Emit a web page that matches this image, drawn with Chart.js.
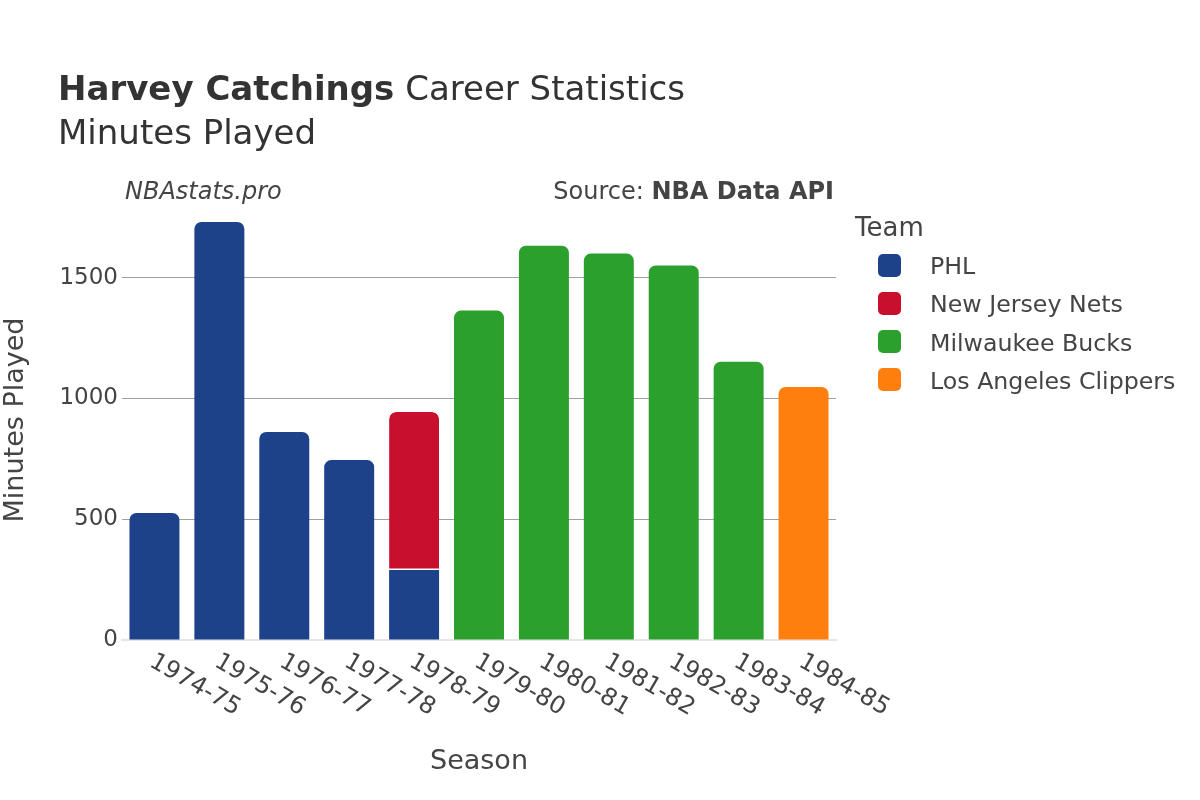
<!DOCTYPE html>
<html><head><meta charset="utf-8">
<script src="https://cdn.jsdelivr.net/npm/chart.js@4.4.1/dist/chart.umd.min.js"></script>
<style>
html,body{margin:0;padding:0;background:#fff;}
#wrap{position:relative;width:1200px;height:800px;overflow:hidden;font-family:'DejaVu Sans';}
canvas{position:absolute;left:0;top:0;}
.t{position:absolute;white-space:nowrap;line-height:1;color:#444;}
.sw{position:absolute;width:23px;height:23px;border-radius:5px;}
</style></head><body>
<div id="wrap">
<canvas id="c" width="1200" height="800"></canvas>
<div class="t" style="left:58px;top:70.5px;font-size:34px;color:#333"><b>Harvey Catchings</b> Career Statistics</div>
<div class="t" style="left:58px;top:114.5px;font-size:34px;color:#333">Minutes Played</div>
<div class="t" style="left:125px;top:178.7px;font-size:24px;font-style:italic">NBAstats.pro</div>
<div class="t" style="right:366px;top:178.7px;font-size:24px;text-align:right">Source: <b>NBA Data API</b></div>
<div class="t" style="left:855px;top:214px;font-size:26px">Team</div>
<div id="legend"></div>
</div>
<script>
const seasons = ['1974-75','1975-76','1976-77','1977-78','1978-79','1979-80','1980-81','1981-82','1982-83','1983-84','1984-85'];
const teams = ['PHL','New Jersey Nets','Milwaukee Bucks','Los Angeles Clippers'];
const phl = [526, 1731, 861, 745, 290, null, null, null, null, null, null];
const njn = [null, null, null, null, 654, null, null, null, null, null, null];
const mil = [null, null, null, null, null, 1364, 1633, 1600, 1551, 1152, null];
const lac = [null, null, null, null, null, null, null, null, null, null, 1048];
const yTicks = [0, 500, 1000, 1500];

const teamColors = ['#1d428a', '#c8102e', '#2ca02c', '#ff7f0e'];
const series = [phl, njn, mil, lac];

// legend (HTML)
const lg = document.getElementById('legend');
teams.forEach((t, k) => {
  const cy = 265 + k * 38.3;
  const sw = document.createElement('div');
  sw.className = 'sw';
  sw.style.left = '878px'; sw.style.top = (cy - 11.5) + 'px';
  sw.style.background = teamColors[k];
  lg.appendChild(sw);
  const tx = document.createElement('div');
  tx.className = 't';
  tx.style.left = '930px'; tx.style.fontSize = '23.7px';
  tx.style.top = (cy + 10 - 23.7 * 0.846) + 'px';
  tx.textContent = t;
  lg.appendChild(tx);
});

function topRadius(ctx) {
  const i = ctx.dataIndex, d = ctx.datasetIndex;
  const sets = ctx.chart.data.datasets;
  for (let k = d + 1; k < sets.length; k++) { if (sets[k].data[i] != null) return 0; }
  return {topLeft: 7, topRight: 7, bottomLeft: 0, bottomRight: 0};
}

const xLabels = {
  id: 'xLabels',
  afterDraw(chart) {
    const ctx = chart.ctx, xs = chart.scales.x, ca = chart.chartArea;
    ctx.save();
    ctx.fillStyle = '#444';
    ctx.font = '24px "DejaVu Sans"';
    ctx.textAlign = 'left';
    ctx.textBaseline = 'middle';
    seasons.forEach((s, i) => {
      const x = xs.getPixelForValue(i);
      ctx.save();
      ctx.translate(x - 3, 660);
      ctx.rotate(Math.PI / 6);
      ctx.fillText(s, 0, 0);
      ctx.restore();
    });
    ctx.font = '27px "DejaVu Sans"';
    ctx.textAlign = 'center';
    ctx.textBaseline = 'alphabetic';
    ctx.fillText('Season', (ca.left + ca.right) / 2, 769);
    ctx.restore();
  }
};

Chart.defaults.font.family = '"DejaVu Sans"';
Chart.defaults.color = '#444';

new Chart(document.getElementById('c'), {
  type: 'bar',
  data: {
    labels: seasons,
    datasets: series.map((s, k) => ({
      label: teams[k],
      data: s,
      backgroundColor: teamColors[k],
      borderColor: '#ffffff',
      borderWidth: k === 1 ? {top: 0, left: 0, right: 0, bottom: 1.5} : 0,
      borderSkipped: k === 1 ? false : 'start',
      borderRadius: topRadius,
      barPercentage: 1,
      categoryPercentage: 0.77
    }))
  },
  options: {
    responsive: false,
    animation: false,
    devicePixelRatio: 1,
    layout: {padding: {top: 200, right: 364, bottom: 160, left: 0}},
    plugins: {legend: {display: false}, tooltip: {enabled: false}, title: {display: false}},
    scales: {
      x: {
        stacked: true,
        grid: {display: false, drawTicks: false},
        border: {display: true, color: '#e6e6e6', width: 2},
        ticks: {display: false},
        afterFit(scale) { scale.height = 0; }
      },
      y: {
        stacked: true,
        min: 0, max: 1822,
        afterBuildTicks(scale) { scale.ticks = yTicks.map(v => ({value: v})); },
        grid: {
          drawTicks: false,
          color: (c) => (c.tick && c.tick.value === 0) ? 'rgba(0,0,0,0)' : '#a0a0a0',
          lineWidth: 1
        },
        border: {display: false},
        ticks: {font: {size: 23}, color: '#444', padding: 4, callback: (v) => String(v)},
        title: {display: true, text: 'Minutes Played', font: {size: 27}, color: '#444', padding: {top: 0, bottom: 0}},
        afterFit(scale) { scale.width = 122; }
      }
    }
  },
  plugins: [xLabels]
});
</script>
</body></html>
